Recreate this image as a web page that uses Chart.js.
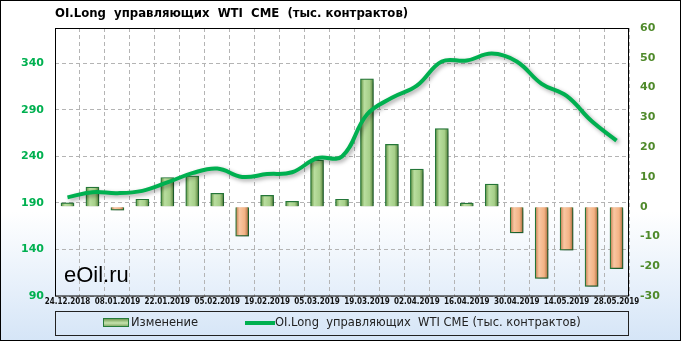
<!DOCTYPE html>
<html>
<head>
<meta charset="utf-8">
<script src="https://cdn.jsdelivr.net/npm/chart.js@4"></script>
<style>
body { margin: 0; }
#c { display: block; background: linear-gradient(to bottom, #ffffff 0%, #ffffff 62%, #d5e5f7 100%); }
</style>
</head>
<body>
<canvas id="c" width="681" height="341"></canvas>
<script>
var dates = ['24.12.2018', '01.01.2019', '08.01.2019', '15.01.2019', '22.01.2019', '29.01.2019',
    '05.02.2019', '12.02.2019', '19.02.2019', '26.02.2019', '05.03.2019', '12.03.2019',
    '19.03.2019', '26.03.2019', '02.04.2019', '09.04.2019', '16.04.2019', '23.04.2019',
    '30.04.2019', '07.05.2019', '14.05.2019', '21.05.2019', '28.05.2019'];
var change = [1.3, 6.6, -1.2, 2.5, 9.8, 10.3, 4.5, -9.9, 3.8, 1.8, 15.6, 2.5,
    42.9, 20.9, 12.6, 26.2, 1.2, 7.6, -8.8, -24.1, -14.6, -26.8, -20.8];
var longOI = [196, 201.5, 200.5, 203, 212, 222, 227, 218, 221, 223, 238, 240,
    285, 303, 316, 342, 343, 350.5, 342, 318, 305, 278, 257];
var leftTicks = [90, 140, 190, 240, 290, 340];
var titleText = 'OI.Long  управляющих  WTI  CME  (тыс. контрактов)';
var barName = 'Изменение';
var lineName = 'OI.Long  управляющих  WTI CME (тыс. контрактов)';

Chart.defaults.font.family = 'DejaVu Sans';

function barFill(ctx) {
    var chart = ctx.chart;
    var v = change[ctx.dataIndex];
    var flat = v >= 0 ? '#a9d18e' : '#f4b183';
    var x = chart.scales.x ? chart.scales.x.getPixelForValue(ctx.dataIndex) : NaN;
    if (!isFinite(x)) return flat;
    var g = chart.ctx.createLinearGradient(x - 6.5, 0, x + 6.5, 0);
    if (v >= 0) {
        g.addColorStop(0, '#5f8f3e');
        g.addColorStop(0.3, '#b9de9f');
        g.addColorStop(0.7, '#a6cf89');
        g.addColorStop(1, '#557f37');
    } else {
        g.addColorStop(0, '#c07a4a');
        g.addColorStop(0.3, '#f9c7a2');
        g.addColorStop(0.7, '#f3b385');
        g.addColorStop(1, '#a9683b');
    }
    return g;
}

var decor = {
    id: 'decor',
    beforeDatasetsDraw: function (chart) {
        var c = chart.ctx;
        c.save();
        c.fillStyle = '#000';
        c.font = '22px "Liberation Sans"';
        c.textBaseline = 'alphabetic';
        c.fillText('eOil.ru', 64, 282);
        c.restore();
    },
    beforeDatasetDraw: function (chart) {
        var c = chart.ctx;
        c.save();
        c.shadowColor = 'rgba(0,0,0,0.35)';
        c.shadowBlur = 4;
        c.shadowOffsetX = 2;
        c.shadowOffsetY = 2;
    },
    afterDatasetDraw: function (chart) {
        chart.ctx.restore();
    },
    afterDraw: function (chart) {
        var c = chart.ctx, a = chart.chartArea;
        c.save();
        c.strokeStyle = '#000';
        c.lineWidth = 1;
        c.strokeRect(a.left + 0.5, a.top + 0.5, a.right - a.left - 1, a.bottom - a.top - 0.5);
        c.strokeRect(0.5, 0.5, chart.width - 1, chart.height - 1);

        c.fillStyle = '#000';
        c.font = 'bold 13px "DejaVu Sans Condensed"';
        c.textBaseline = 'middle';
        c.fillText(titleText, 55, 14);

        // legend
        c.strokeStyle = '#222';
        c.strokeRect(55.5, 311.5, 573, 24);
        var g = c.createLinearGradient(0, 318, 0, 328);
        g.addColorStop(0, '#5e8c3e');
        g.addColorStop(0.5, '#c6e3ae');
        g.addColorStop(1, '#5e8c3e');
        c.fillStyle = g;
        c.fillRect(103, 318, 26, 9);
        c.strokeStyle = '#257a3a';
        c.strokeRect(103.5, 318.5, 25, 8);
        c.strokeStyle = '#00b050';
        c.lineWidth = 4;
        c.beginPath();
        c.moveTo(245, 323);
        c.lineTo(275, 323);
        c.stroke();
        c.fillStyle = '#222';
        c.font = '11.5px "DejaVu Sans"';
        c.fillText(barName, 131, 323);
        c.fillText(lineName, 275, 323);
        c.restore();
    }
};

new Chart(document.getElementById('c'), {
    data: {
        labels: dates,
        datasets: [{
            type: 'line',
            label: lineName,
            data: longOI,
            yAxisID: 'y',
            borderColor: '#00b050',
            borderWidth: 4,
            pointRadius: 0,
            tension: 0.4,
            order: 1
        }, {
            type: 'bar',
            label: barName,
            data: change,
            yAxisID: 'y1',
            backgroundColor: barFill,
            borderColor: '#257a3a',
            borderWidth: 1.2,
            barThickness: 13,
            order: 2
        }]
    },
    options: {
        responsive: false,
        animation: false,
        layout: { padding: { top: 28 } },
        plugins: {
            legend: { display: false },
            title: { display: false },
            tooltip: { enabled: false }
        },
        scales: {
            x: {
                afterFit: function (s) { s.height = 45; },
                grid: { color: '#b4b4b4', drawTicks: false, offset: true },
                border: { display: false, dash: [4, 3] },
                ticks: {
                    autoSkip: false,
                    maxRotation: 0,
                    padding: 1,
                    color: '#111',
                    font: { family: 'DejaVu Sans Condensed', size: 8, weight: 'bold' },
                    callback: function (v, i) { return i % 2 === 0 ? dates[i] : ''; }
                }
            },
            y: {
                position: 'left',
                min: 90,
                max: 378,
                afterFit: function (s) { s.width = 55; },
                afterBuildTicks: function (s) {
                    s.ticks = leftTicks.map(function (v) { return { value: v }; });
                },
                grid: { color: '#b4b4b4', drawTicks: false },
                border: { display: false, dash: [4, 3] },
                ticks: {
                    padding: 11,
                    color: '#00b050',
                    font: { size: 11, weight: 'bold' }
                }
            },
            y1: {
                position: 'right',
                min: -30,
                max: 60,
                afterFit: function (s) { s.width = 52; },
                grid: { drawOnChartArea: false, drawTicks: false },
                border: { display: false },
                ticks: {
                    stepSize: 10,
                    padding: 11,
                    color: '#4f8a2b',
                    font: { size: 11, weight: 'bold' }
                }
            }
        }
    },
    plugins: [decor]
});
</script>
</body>
</html>
